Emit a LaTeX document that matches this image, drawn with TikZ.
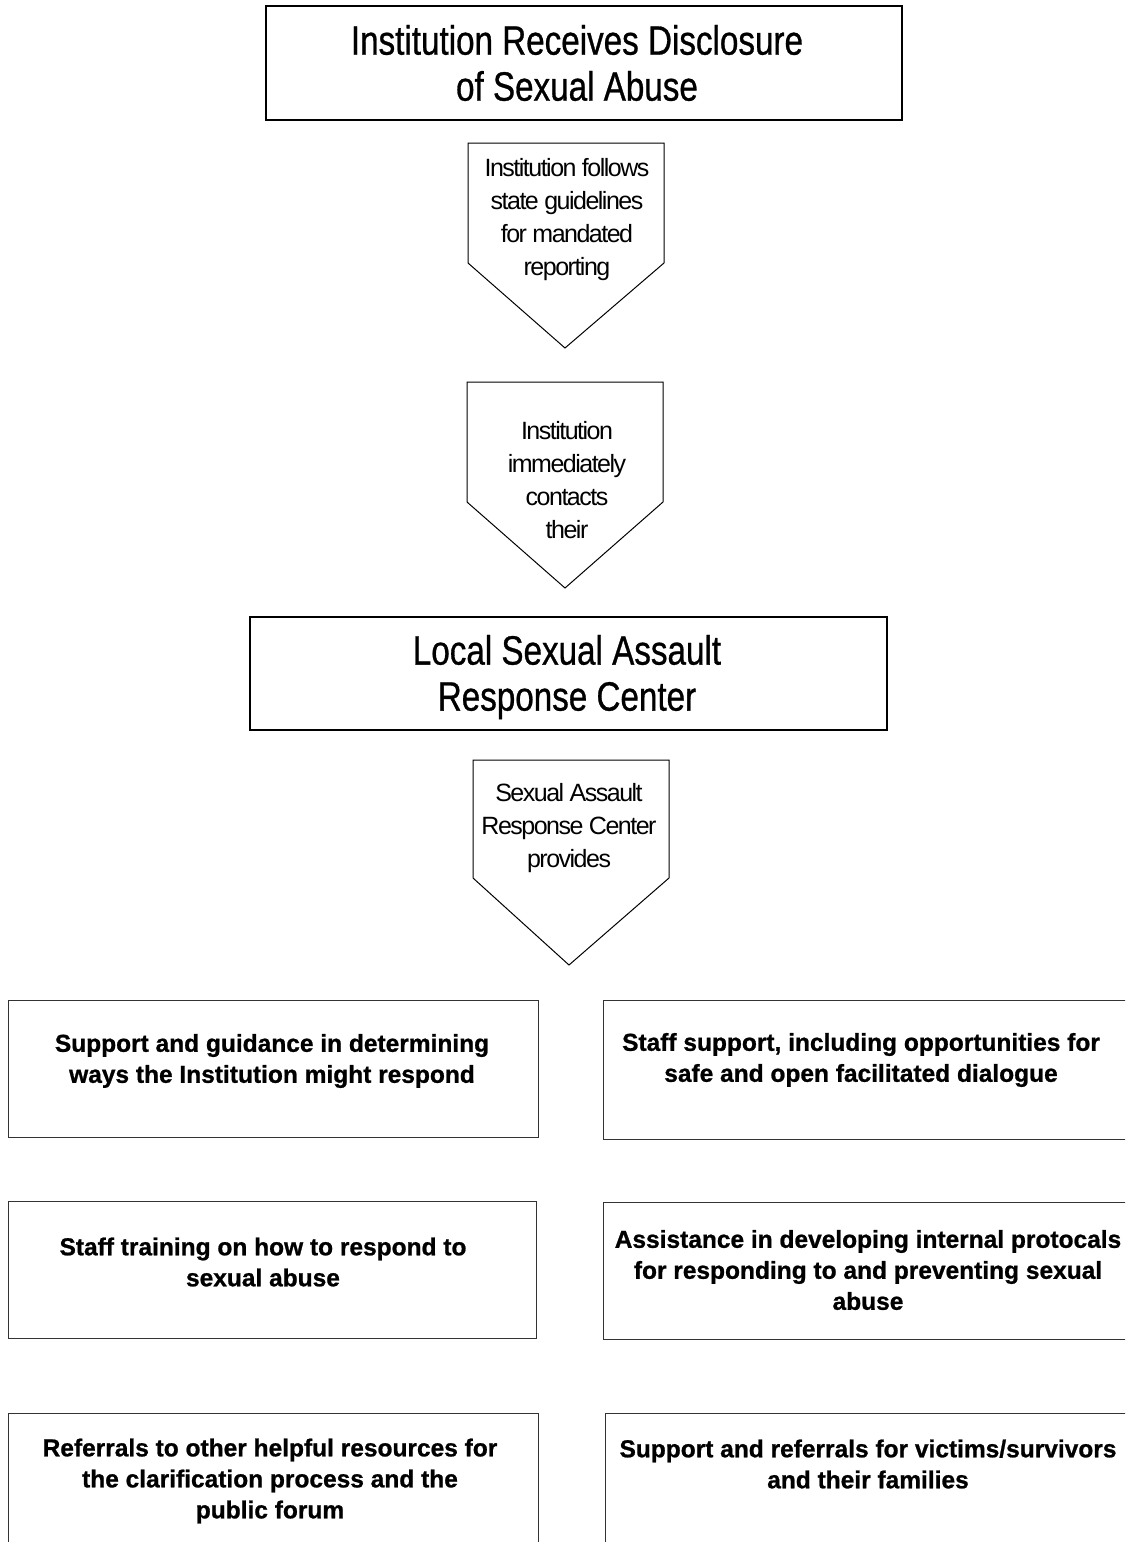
\documentclass[tikz,border=0pt]{standalone}
\usepackage{fontspec}
\setmainfont{Liberation Sans}
\newfontfamily\condfont{Liberation Sans}[FakeStretch=0.81, FakeBold=0.7]
\newfontfamily\arrowfont{Liberation Sans}[LetterSpace=-6]
\newfontfamily\boxfont{Liberation Sans}[UprightFont={* Bold}, FakeBold=0.9]
\begin{document}
\begin{tikzpicture}[x=1pt,y=-1pt,
  titlebox/.style={draw=black, line width=1.8pt, anchor=north west, inner sep=0pt},
  itembox/.style={draw=black!80, line width=1.3pt, anchor=north west, inner sep=0pt},
  titletext/.style={align=center, inner sep=0pt, font=\condfont\fontsize{41}{46}\selectfont},
  arrowtext/.style={align=center, inner sep=0pt, font=\arrowfont\fontsize{25}{33}\selectfont},
  itemtext/.style={align=center, inner sep=0pt, font=\boxfont\fontsize{24.5}{31}\selectfont},
  pent/.style={draw=black, line width=1pt}]
\useasboundingbox (0,0) rectangle (1125,1542);
\clip (0,0) rectangle (1125,1542);
% title boxes
\node[titlebox, minimum width=636pt, minimum height=114pt] (top) at (265,5) {};
\node[titletext] (toptext) at (577,63) {Institution Receives Disclosure\\of Sexual Abuse};
\node[titlebox, minimum width=637pt, minimum height=113pt] (center) at (249,616) {};
\node[titletext] (centertext) at (567,677) {Local Sexual Assault\\Response Center};
% pentagon arrows
\draw[pent] (468,143) -- (664,143) -- (664,263) -- (565,348) -- (468,263) -- cycle;
\node[arrowtext] (a1) at (567,220) {Institution follows\\state guidelines\\for mandated\\reporting};
\draw[pent] (467,382) -- (663,382) -- (663,502) -- (565,588) -- (467,502) -- cycle;
\node[arrowtext] (a2) at (567,480) {Institution\\immediately\\contacts\\their};
\draw[pent] (473,760) -- (669,760) -- (669,878) -- (569,965) -- (473,878) -- cycle;
\node[arrowtext] (a3) at (569,828) {Sexual Assault\\Response Center\\provides};
% item boxes
\node[itembox, minimum width=530pt, minimum height=137pt] (l1) at (8,1000) {};
\node[itemtext] (l1t) at (272,1061) {Support and guidance in determining\\ways the Institution might respond};
\node[itembox, minimum width=530pt, minimum height=139pt] (r1) at (603,1000) {};
\node[itemtext] (r1t) at (861,1060) {Staff support, including opportunities for\\safe and open facilitated dialogue};
\node[itembox, minimum width=528pt, minimum height=137pt] (l2) at (8,1201) {};
\node[itemtext] (l2t) at (263,1262) {Staff training on how to respond to\\sexual abuse};
\node[itembox, minimum width=530pt, minimum height=137pt] (r2) at (603,1202) {};
\node[itemtext] (r2t) at (868,1270) {Assistance in developing internal protocals\\for responding to and preventing sexual\\abuse};
\node[itembox, minimum width=530pt, minimum height=160pt] (l3) at (8,1413) {};
\node[itemtext] (l3t) at (270,1481) {Referrals to other helpful resources for\\the clarification process and the\\public forum};
\node[itembox, minimum width=530pt, minimum height=160pt] (r3) at (605,1413) {};
\node[itemtext] (r3t) at (868,1464) {Support and referrals for victims/survivors\\and their families};
\end{tikzpicture}
\end{document}
